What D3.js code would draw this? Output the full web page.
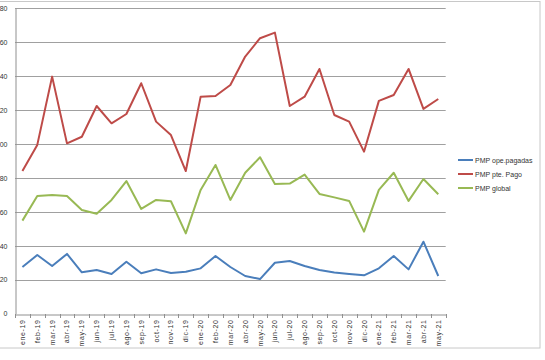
<!DOCTYPE html>
<html><head><meta charset="utf-8">
<script src="https://cdn.jsdelivr.net/npm/d3@7"></script>
<style>body{margin:0;background:#fff}svg{display:block}</style>
</head><body><svg id="c" width="545" height="360"></svg>
<script>
const categories = ["ene-19","feb-19","mar-19","abr-19","may-19","jun-19","jul-19","ago-19","sep-19","oct-19","nov-19","dic-19",
 "ene-20","feb-20","mar-20","abr-20","may-20","jun-20","jul-20","ago-20","sep-20","oct-20","nov-20","dic-20",
 "ene-21","feb-21","mar-21","abr-21","may-21"];
const opePagadas = [27.5,34.6,28.1,35.2,24.4,25.7,23.4,30.6,23.8,26.1,24.0,24.7,26.7,34.0,27.5,22.2,20.4,30.0,31.0,28.1,25.7,24.2,23.4,22.6,26.7,34.0,26.1,42.4,22.2];
const ptePago = [84,99.4,139.6,100.3,104.2,122.3,112.1,117.6,135.7,113.1,105.2,84,127.8,128.2,134.7,151.4,162.2,165.5,122.3,127.8,144.1,117,113.1,95.4,125.3,128.8,144.1,120.6,126.4];
const global = [54.8,69.3,69.9,69.3,61.1,58.9,67,78.1,61.7,67,66.2,47.3,72.9,87.6,67,83,92.1,76.4,76.6,81.9,70.5,68.5,66.4,48.3,72.9,83,66.4,79.3,70.3];
const seriesNames = ["PMP ope.pagadas","PMP pte. Pago","PMP global"];
const yTicks = [0,20,40,60,80,100,120,140,160,180];

const colors = ["#4a7ebb","#be4b48","#98b954"];
const seriesData = [opePagadas, ptePago, global];
const svg = d3.select("#c");
const font = "'Liberation Sans', Arial, sans-serif";

// outer chart border
svg.append("rect").attr("x",-2).attr("y",1.5).attr("width",542).attr("height",346.5)
  .attr("fill","none").attr("stroke","#c8c8c8").attr("stroke-width",1);

const x = d3.scaleBand().domain(categories).range([15,445.7]).padding(0);
const y = d3.scaleLinear().domain([0,180]).range([313.7,8]);

// gridlines
svg.append("g").selectAll("line").data(yTicks.filter(d=>d>0)).join("line")
  .attr("x1",15).attr("x2",445.7).attr("y1",d=>Math.round(y(d))+0.5).attr("y2",d=>Math.round(y(d))+0.5)
  .attr("stroke","#a0a0a0").attr("stroke-width",1);

// y axis
const yAxis = svg.append("g").attr("transform","translate(15.5,0)")
  .call(d3.axisLeft(y).tickValues(yTicks).tickSize(0).tickPadding(8).tickFormat(d3.format("d")));
yAxis.select(".domain").attr("stroke","#909090");
yAxis.selectAll("text").attr("font-family",font).attr("font-size",7).attr("fill","#333");

// x axis
const xAxis = svg.append("g").attr("transform",`translate(0,${Math.round(y(0))+0.5})`)
  .call(d3.axisBottom(x).tickSize(0).tickPadding(0));
xAxis.select(".domain").attr("stroke","#909090");
xAxis.selectAll(".tick text").attr("font-family",font).attr("font-size",7).attr("fill","#333")
  .attr("letter-spacing","0.6")
  .attr("transform","rotate(-90)").attr("text-anchor","end").attr("dx","-5").attr("dy","2.5").attr("x",0).attr("y",0);
// tick marks at band boundaries
const bounds = categories.map(c=>x(c)).concat([x(categories[categories.length-1])+x.bandwidth()]);
svg.append("g").selectAll("line").data(bounds).join("line")
  .attr("x1",d=>Math.round(d)+0.5).attr("x2",d=>Math.round(d)+0.5)
  .attr("y1",Math.round(y(0))).attr("y2",Math.round(y(0))+4)
  .attr("stroke","#909090");

// lines
const line = d3.line().x((d,i)=>x(categories[i])+x.bandwidth()/2).y(d=>y(d));
seriesData.forEach((s,k)=>{
  svg.append("path").datum(s).attr("d",line).attr("fill","none")
    .attr("stroke",colors[k]).attr("stroke-width",2).attr("stroke-linejoin","round");
});

// legend
const lg = svg.append("g");
seriesNames.forEach((n,k)=>{
  const yy = 160 + k*14;
  lg.append("line").attr("x1",458).attr("x2",473).attr("y1",yy).attr("y2",yy)
    .attr("stroke",colors[k]).attr("stroke-width",2);
  lg.append("text").attr("x",475).attr("y",yy+2.5).text(n)
    .attr("font-family",font).attr("font-size",7).attr("fill","#333");
});
</script></body></html>
